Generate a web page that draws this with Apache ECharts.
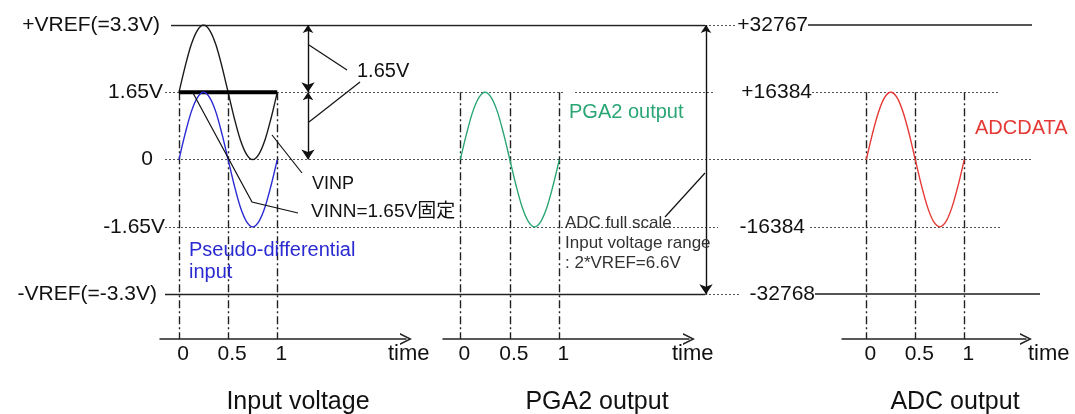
<!DOCTYPE html>
<html><head><meta charset="utf-8">
<script src="https://cdn.jsdelivr.net/npm/echarts@6/dist/echarts.min.js"></script>
<style>html,body{margin:0;padding:0;background:#fff}#c{width:1075px;height:414px}</style>
</head><body><div id="c"></div>
<script>
// ---------------- data ----------------
const timePoints = [0,0.0625,0.125,0.1875,0.25,0.3125,0.375,0.4375,0.5,0.5625,0.625,0.6875,0.75,0.8125,0.875,0.9375,1];
const vinp       = [1.65,2.28,2.82,3.17,3.3,3.17,2.82,2.28,1.65,1.02,0.48,0.13,0,0.13,0.48,1.02,1.65];
const vinnTimes  = [0,1];
const vinn       = [1.65,1.65];
const pseudoDiff = [0,0.63,1.17,1.52,1.65,1.52,1.17,0.63,0,-0.63,-1.17,-1.52,-1.65,-1.52,-1.17,-0.63,0];
const pga2Out    = [0,0.63,1.17,1.52,1.65,1.52,1.17,0.63,0,-0.63,-1.17,-1.52,-1.65,-1.52,-1.17,-0.63,0];
const adcData    = [0,6270,11585,15137,16384,15137,11585,6270,0,-6270,-11585,-15137,-16384,-15137,-11585,-6270,0];
const timeTicks  = [0,0.5,1];
const voltLevels = [3.3,1.65,0,-1.65,-3.3];
const voltLabels = ['+VREF(=3.3V)','1.65V','0','-1.65V','-VREF(=-3.3V)'];
const codeLevels = [32767,16384,-16384,-32768];
const codeLabels = ['+32767','+16384','-16384','-32768'];
const panelTitles = ['Input voltage','PGA2 output','ADC output'];

// ---------------- layout ----------------
const FONT = '"Liberation Sans", Arial, "Noto Sans CJK JP", sans-serif';
const VMIN = -4.4, VMAX = 3.3, CMIN = -43691, CMAX = 32767;
// horizontal extents (px) of reference rules: [level, x1, x2]
const ruleSolid  = [[3.3,171,705],[-3.3,165,705]];
const ruleGray   = [[3.3,808,1032],[-3.3,815,1040]];
const ruleDotted = [[3.3,705,737],[-3.3,705,740],[1.65,165,565],[1.65,575,713],[1.65,812,1000],
                    [0,165,1032],[-1.65,165,718],[-1.65,810,1000]];

const zip = (xs, ys) => xs.map((x, i) => [x, ys[i]]);
const chevron = 'path://M6,0 L12,12 L10.3,12 L6,3.4 L1.7,12 L0,12 Z';

function timeAxis(gi, min, max, nameGap) {
  return {
    type:'value', gridIndex:gi, min, max,
    name:'time', nameLocation:'end', nameGap,
    nameTextStyle:{fontSize:22, fontFamily:FONT, color:'#111', align:'left', verticalAlign:'top', padding:[4,0,0,0]},
    axisLine:{show:true, onZero:false, lineStyle:{color:'#222', width:1.5}, symbol:['none', chevron], symbolSize:[12,12]},
    axisTick:{show:false}, splitLine:{show:false},
    axisLabel:{show:true, customValues: timeTicks, formatter: v => String(v), margin:5,
      fontSize:21, fontFamily:FONT, color:'#111', padding:[0,0,0,8]}
  };
}
function hiddenY(gi, min, max) {
  return {type:'value', gridIndex:gi, min, max, axisLine:{show:false}, axisTick:{show:false},
          splitLine:{show:false}, axisLabel:{show:false}};
}
function richPads(pads, size) {
  const r = {};
  pads.forEach((p, i) => { r['p'+i] = {padding:[0,p,0,0], fontSize:size, fontFamily:FONT, color:'#111'}; });
  return r;
}
function rules(list, style) {
  return {type:'lines', coordinateSystem:'cartesian2d', xAxisIndex:3, yAxisIndex:3, silent:true,
    data: list.map(r => ({coords:[[r[1], r[0]], [r[2], r[0]]]})), lineStyle: Object.assign({opacity:1}, style), z:1};
}
function timeMarks(gi, top, bottom) {
  return {type:'lines', coordinateSystem:'cartesian2d', xAxisIndex:gi, yAxisIndex:gi, silent:true,
    data: timeTicks.map(t => ({coords:[[t, top],[t, bottom]]})),
    lineStyle:{color:'#222', width:1.4, opacity:1, type:[8,3,2,3]}, z:2};
}
function curve(gi, data, color, width) {
  return {type:'line', xAxisIndex:gi, yAxisIndex:gi, data, showSymbol:false, smooth:0.3,
    lineStyle:{color, width}, itemStyle:{color}, z:5, animation:false};
}
function txt(x, y, text, size, color, align) {
  return {type:'text', x, y, z:100, style:{text, fontSize:size, fontFamily:FONT, fill:color||'#111',
    textAlign:align||'left', textVerticalAlign:'middle'}};
}
function pline(points) {
  return {type:'polyline', z:50, shape:{points}, style:{stroke:'#111', lineWidth:1.2, fill:null}};
}

const option = {
  animation:false,
  backgroundColor:'#fff',
  grid:[
    {left:160, width:246, top:25, bottom:75},
    {left:443, width:246, top:25, bottom:75},
    {left:842, width:184, top:25, bottom:75},
    {left:0, right:0, top:25, bottom:75}
  ],
  xAxis:[
    timeAxis(0, -0.193, 2.31, -18),
    timeAxis(1, -0.175, 2.31, -17),
    timeAxis(2, -0.248, 1.63, 2),
    {type:'value', gridIndex:3, min:0, max:1075, show:false}
  ],
  yAxis:[
    {type:'value', gridIndex:0, min:VMIN, max:VMAX, axisLine:{show:false}, axisTick:{show:false}, splitLine:{show:false},
     axisLabel:{show:true, customValues: voltLevels, margin:-5, fontSize:21, fontFamily:FONT, color:'#111',
       formatter: v => { const i = voltLevels.indexOf(v); return i < 0 ? '' : '{p'+i+'|'+voltLabels[i]+'}'; },
       rich: richPads([5,2,12,0,8], 21)}},
    hiddenY(1, VMIN, VMAX),
    {type:'value', gridIndex:2, min:CMIN, max:CMAX, axisLine:{show:false}, axisTick:{show:false}, splitLine:{show:false},
     axisLabel:{show:true, customValues: codeLevels, margin:27, fontSize:21, fontFamily:FONT, color:'#111',
       formatter: v => { const i = codeLevels.indexOf(v); return i < 0 ? '' : '{p'+i+'|'+codeLabels[i]+'}'; },
       rich: richPads([7,3,10,0], 21)}},
    hiddenY(3, VMIN, VMAX)
  ],
  series:[
    rules(ruleSolid,  {color:'#222', width:1.3, type:'solid'}),
    rules(ruleGray,   {color:'#555', width:2, type:'solid'}),
    rules(ruleDotted, {color:'#555', width:1, type:[2,2]}),
    timeMarks(0, 1.65, VMIN),
    timeMarks(1, 1.65, VMIN),
    timeMarks(2, 16384, CMIN),
    {type:'lines', coordinateSystem:'cartesian2d', xAxisIndex:3, yAxisIndex:3, silent:true, z:6,
     symbol:['arrow','arrow'], symbolSize:[8,10], symbolOffset:[0,5],
     lineStyle:{color:'#111', width:1.4, opacity:1},
     data:[{coords:[[308,3.3],[308,1.65]]},{coords:[[308,1.65],[308,0]]},{coords:[[706,3.3],[706,-3.3]]}]},
    curve(0, zip(timePoints, vinp), '#1a1a1a', 1.4),
    curve(0, zip(vinnTimes, vinn), '#000', 4),
    curve(0, zip(timePoints, pseudoDiff), '#2a2ad2', 1.4),
    curve(1, zip(timePoints, pga2Out), '#2aa675', 1.4),
    curve(2, zip(timePoints, adcData), '#e53935', 1.4)
  ],
  graphic:[
    pline([[309,45],[347,70]]),
    pline([[309,122],[360,82]]),
    pline([[272,135],[302,173]]),
    pline([[193,93],[252,202],[298,213]]),
    pline([[705,173],[665,217]]),
    txt(357, 71, '1.65V', 20),
    txt(312, 184, 'VINP', 18),
    txt(311, 212, 'VINN=1.65V固定', 19),
    txt(189, 250, 'Pseudo-differential', 20, '#2a2ad2'),
    txt(189, 272, 'input', 20, '#2a2ad2'),
    txt(569, 112, 'PGA2 output', 20, '#2aa675'),
    txt(975, 128, 'ADCDATA', 20, '#e53935'),
    txt(565, 223, 'ADC full scale', 17, '#333'),
    txt(565, 243, 'Input voltage range', 17, '#333'),
    txt(565, 263, ': 2*VREF=6.6V', 17, '#333'),
    txt(298, 402, panelTitles[0], 25, '#111', 'center'),
    txt(597, 402, panelTitles[1], 25, '#111', 'center'),
    txt(955, 402, panelTitles[2], 25, '#111', 'center')
  ]
};
echarts.init(document.getElementById('c'), null, {renderer:'canvas'}).setOption(option);
</script></body></html>
